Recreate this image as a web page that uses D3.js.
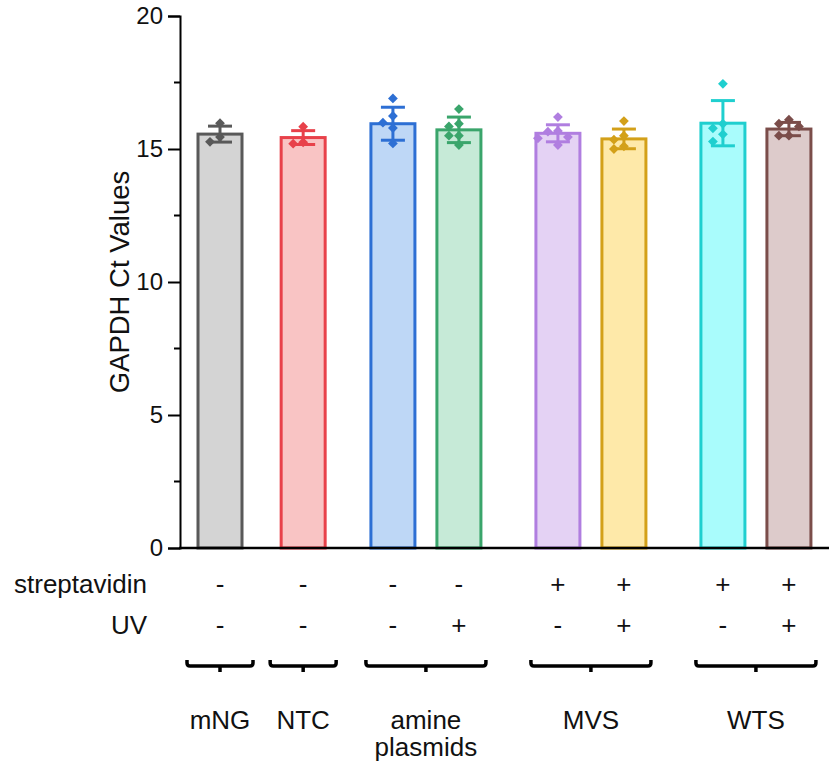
<!DOCTYPE html>
<html>
<head>
<meta charset="utf-8">
<script src="https://cdn.jsdelivr.net/npm/d3@7"></script>
<style>
  html, body { margin: 0; padding: 0; background: #fff; }
  text { font-family: "Liberation Sans", Arial, sans-serif; fill: #111; }
</style>
</head>
<body>
<div id="chart"></div>
<script>
// ---- data ----
const categories = ['mNG', 'NTC', 'amine -UV', 'amine +UV', 'MVS -UV', 'MVS +UV', 'WTS -UV', 'WTS +UV'];
const means = [15.56, 15.43, 15.95, 15.72, 15.59, 15.38, 15.97, 15.75];
const sds   = [0.30, 0.26, 0.62, 0.48, 0.32, 0.37, 0.85, 0.25];
const replicates = [
  [15.97, 15.45, 15.27],
  [15.84, 15.25, 15.20],
  [16.90, 16.24, 15.99, 15.79, 15.21],
  [16.50, 15.95, 15.85, 15.50, 15.50, 15.15],
  [16.20, 15.68, 15.65, 15.45, 15.40, 15.15],
  [16.05, 15.50, 15.35, 15.10, 15.00],
  [17.45, 15.95, 15.78, 15.55, 15.28],
  [16.10, 15.95, 15.85, 15.50, 15.50]
];
const streptavidin = ['-', '-', '-', '-', '+', '+', '+', '+'];
const uv           = ['-', '-', '-', '+', '-', '+', '-', '+'];
const groupLabels  = [['mNG'], ['NTC'], ['amine', 'plasmids'], ['MVS'], ['WTS']];
const groupMembers = [[0], [1], [2, 3], [4, 5], [6, 7]];
const yTicks = [0, 5, 10, 15, 20];

// ---- styles ----
const strokeC = ['#595959', '#e8414a', '#2d6fd4', '#3aa56b', '#b07ee0', '#d3a019', '#1fcfcf', '#7b4d4a'];
const fillC   = ['#d4d4d4', '#f9c4c4', '#bed7f6', '#c6ead7', '#e4d2f4', '#fee9a9', '#a9fcfc', '#ddcbcb'];

const W = 829, H = 767;
const X_AXIS = 180, Y0 = 548, Y20 = 16;
const STEP = 66, BAR_W = 44, CAP_W = 24;
const GROUP_GAP = [0, 0.26, 0.36, 0.5, 0.5];   // extra gap before each group, in bar steps
const FONT = 26;

// slot units for each bar: step 1 inside a group, plus extra gap between groups
const slot = [];
let s = 0;
groupMembers.forEach((mem, gi) => {
  if (gi > 0) s += 1 + GROUP_GAP[gi];
  mem.forEach((m, k) => { slot[m] = s + k; });
  s += mem.length - 1;
});

const x = d3.scaleLinear().domain([0, 1]).range([220, 220 + STEP]);
const y = d3.scaleLinear().domain([0, 20]).range([Y0, Y20]);

const svg = d3.select('#chart').append('svg')
  .attr('width', W).attr('height', H)
  .attr('viewBox', `0 0 ${W} ${H}`);

// bars
const bars = svg.append('g');
categories.forEach((c, i) => {
  const cx = x(slot[i]);
  bars.append('rect')
    .attr('x', cx - BAR_W / 2)
    .attr('y', y(means[i]))
    .attr('width', BAR_W)
    .attr('height', y(0) - y(means[i]))
    .attr('fill', fillC[i])
    .attr('stroke', strokeC[i])
    .attr('stroke-width', 3);
});

// replicate points, dodged sideways when they would overlap
const diamond = d3.symbol().type(d3.symbolSquare).size(48);
const DODGE = [0, -1, 1, -2, 2];
categories.forEach((c, i) => {
  const cx = x(slot[i]);
  const placed = [];
  replicates[i].slice().sort((a, b) => b - a).forEach(v => {
    const py = y(v);
    let k = 0;
    while (k < DODGE.length - 1 && placed.some(p => p.k === k && Math.abs(p.py - py) < 9)) k++;
    placed.push({ k, py });
    svg.append('path')
      .attr('d', diamond)
      .attr('transform', `translate(${cx + DODGE[k] * 10},${py}) rotate(45)`)
      .attr('fill', strokeC[i]);
  });
});

// error bars (mean ± SD)
categories.forEach((c, i) => {
  const cx = x(slot[i]);
  const g = svg.append('g').attr('stroke', strokeC[i]).attr('stroke-width', 3);
  g.append('line').attr('x1', cx).attr('x2', cx)
    .attr('y1', y(means[i] + sds[i])).attr('y2', y(means[i] - sds[i]));
  [means[i] + sds[i], means[i] - sds[i]].forEach(v => {
    g.append('line').attr('x1', cx - CAP_W / 2).attr('x2', cx + CAP_W / 2)
      .attr('y1', y(v)).attr('y2', y(v));
  });
});

// y axis
const yAxis = svg.append('g')
  .attr('transform', `translate(${X_AXIS},0)`)
  .call(d3.axisLeft(y).tickValues(yTicks).tickSize(12).tickPadding(5));
yAxis.select('.domain').attr('stroke-width', 2);
yAxis.selectAll('.tick line').attr('stroke-width', 2);
yAxis.selectAll('.tick text')
  .attr('font-size', 24)
  .attr('font-family', '"Liberation Sans", Arial, sans-serif');

// minor ticks
svg.append('g').selectAll('line')
  .data(d3.range(2.5, 20, 5))
  .join('line')
  .attr('x1', X_AXIS - 6).attr('x2', X_AXIS)
  .attr('y1', d => y(d)).attr('y2', d => y(d))
  .attr('stroke', '#000').attr('stroke-width', 2);

// x axis baseline
svg.append('line')
  .attr('x1', X_AXIS - 1).attr('x2', W)
  .attr('y1', y(0)).attr('y2', y(0))
  .attr('stroke', '#000').attr('stroke-width', 2.5);

// y title
svg.append('text')
  .attr('transform', `translate(129,${(Y0 + Y20) / 2}) rotate(-90)`)
  .attr('text-anchor', 'middle')
  .attr('font-size', 27.5)
  .text('GAPDH Ct Values');

// condition rows
const rows = [['streptavidin', streptavidin, 593], ['UV', uv, 634]];
rows.forEach(([label, vals, by]) => {
  svg.append('text')
    .attr('x', 147).attr('y', by)
    .attr('text-anchor', 'end')
    .attr('font-size', FONT)
    .text(label);
  vals.forEach((v, i) => {
    svg.append('text')
      .attr('x', x(slot[i])).attr('y', by)
      .attr('text-anchor', 'middle')
      .attr('font-size', FONT)
      .text(v);
  });
});

// group brackets and labels
const BR_TOP = 660, BR_Y = 666, BR_NUB = 672;
groupMembers.forEach((mem, gi) => {
  const first = x(slot[mem[0]]), last = x(slot[mem[mem.length - 1]]);
  const pad = mem.length > 1 ? 27 : 33;
  const x0 = first - pad, x1 = last + pad, mid = (first + last) / 2;
  svg.append('path')
    .attr('d', `M${x0},${BR_TOP} L${x0},${BR_Y - 3} Q${x0},${BR_Y} ${x0 + 3},${BR_Y}
                L${x1 - 3},${BR_Y} Q${x1},${BR_Y} ${x1},${BR_Y - 3} L${x1},${BR_TOP}
                M${mid},${BR_Y} L${mid},${BR_NUB}`)
    .attr('fill', 'none')
    .attr('stroke', '#000')
    .attr('stroke-width', 3.5);

  const t = svg.append('text')
    .attr('x', mid).attr('y', 729)
    .attr('text-anchor', 'middle')
    .attr('font-size', FONT);
  groupLabels[gi].forEach((line, li) => {
    t.append('tspan').attr('x', mid).attr('dy', li === 0 ? 0 : 27).text(line);
  });
});
</script>
</body>
</html>
